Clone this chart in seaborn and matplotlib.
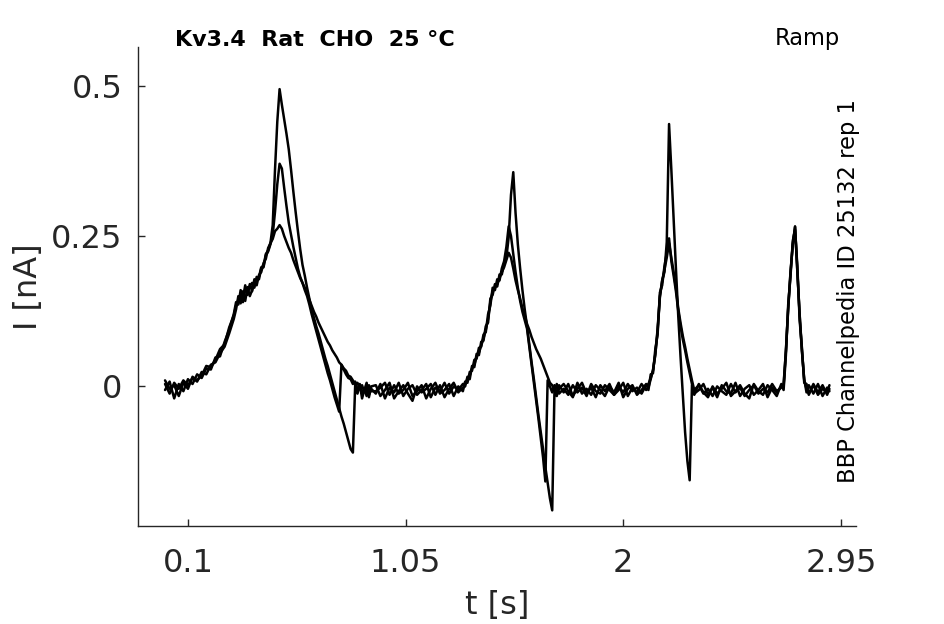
import pandas as pd
import matplotlib
matplotlib.use("Agg")
import matplotlib.pyplot as plt
import seaborn as sns

time_s = [
    0.00, 0.02, 0.04, 0.06, 0.08, 0.10, 0.12, 0.14, 0.16, 0.18, 0.20, 0.22, 0.24, 0.26, 0.28, 0.30,
    0.31, 0.32, 0.33, 0.34, 0.35, 0.36, 0.37, 0.38, 0.39, 0.40,
    0.41, 0.42, 0.43, 0.44, 0.45, 0.46, 0.47, 0.48, 0.49, 0.50,
    0.51, 0.52, 0.53, 0.54, 0.55, 0.56, 0.57, 0.58, 0.59, 0.60,
    0.61, 0.62, 0.63, 0.64, 0.65, 0.66, 0.67, 0.68, 0.69, 0.70,
    0.71, 0.72, 0.73, 0.74, 0.75, 0.76, 0.77, 0.78, 0.79, 0.80,
    0.81, 0.82, 0.83, 0.84, 0.85, 0.86, 0.87, 0.88, 0.89, 0.90,
    0.92, 0.94, 0.96, 0.98, 1.00, 1.02, 1.04, 1.06, 1.08, 1.10,
    1.12, 1.14, 1.16, 1.18, 1.20, 1.22, 1.24, 1.26, 1.28, 1.30,
    1.31, 1.32, 1.33, 1.34, 1.35, 1.36, 1.37, 1.38, 1.39, 1.40,
    1.41, 1.42, 1.43, 1.44, 1.45, 1.46, 1.47, 1.48, 1.49, 1.50,
    1.51, 1.52, 1.53, 1.54, 1.55, 1.56, 1.57, 1.58, 1.59, 1.60,
    1.61, 1.62, 1.63, 1.64, 1.65, 1.66, 1.67, 1.68, 1.69, 1.70,
    1.71, 1.72,
    1.74, 1.76, 1.78, 1.80, 1.82, 1.84, 1.86, 1.88, 1.90, 1.92,
    1.94, 1.96, 1.98, 2.00, 2.02, 2.04, 2.06, 2.08, 2.10,
    2.11, 2.12, 2.13, 2.14, 2.15, 2.16, 2.17, 2.18, 2.19, 2.20,
    2.21, 2.22, 2.23, 2.24, 2.25, 2.26, 2.27, 2.28, 2.29, 2.30, 2.31,
    2.33, 2.35, 2.37, 2.39, 2.41, 2.43, 2.45, 2.47, 2.49, 2.51,
    2.53, 2.55, 2.57, 2.59, 2.61, 2.63, 2.65, 2.67, 2.69,
    2.70, 2.71, 2.72, 2.73, 2.74, 2.75, 2.76, 2.77, 2.78, 2.79, 2.80, 2.81,
    2.83, 2.85, 2.87, 2.89, 2.90,
]

sweep_1 = [
    -0.006, 0.008, -0.020, 0.004, -0.008, 0.012, 0.004, 0.020, 0.014, 0.030, 0.028, 0.048, 0.050, 0.074, 0.094, 0.120,
    0.140, 0.136, 0.160, 0.146, 0.168, 0.152, 0.170, 0.158, 0.178, 0.176,
    0.182, 0.198, 0.200, 0.220, 0.226, 0.238, 0.268, 0.360, 0.440, 0.494,
    0.468, 0.444, 0.420, 0.394, 0.360, 0.324, 0.290, 0.258, 0.228, 0.202,
    0.184, 0.164, 0.146, 0.128, 0.114, 0.100, 0.088, 0.074, 0.060, 0.046,
    0.034, 0.020, 0.006, -0.008, -0.022, -0.036, -0.050, -0.062, -0.076, -0.090,
    -0.104, -0.110, 0.002, -0.012, 0.004, -0.020, -0.006, 0.006, -0.018, 0.000,
    0.002, -0.016, -0.006, 0.006, -0.020, -0.008, 0.002, -0.012, -0.024, 0.000,
    -0.010, -0.004, 0.004, -0.014, 0.002, -0.018, -0.004, 0.006, -0.010, -0.002,
    0.000, 0.016, 0.012, 0.034, 0.032, 0.054, 0.052, 0.074, 0.076, 0.100,
    0.106, 0.146, 0.152, 0.170, 0.166, 0.186, 0.186, 0.204, 0.214, 0.248,
    0.318, 0.356, 0.288, 0.236, 0.196, 0.160, 0.128, 0.100, 0.070, 0.040,
    0.012, -0.018, -0.048, -0.076, -0.104, -0.134, -0.160, -0.186, -0.206, -0.004,
    -0.016, 0.002,
    -0.010, 0.004, -0.016, -0.004, 0.006, -0.012, -0.002, -0.018, 0.002, -0.008,
    0.004, -0.014, -0.006, 0.006, -0.016, -0.002, -0.010, 0.004, -0.006,
    -0.002, 0.012, 0.028, 0.052, 0.096, 0.150, 0.176, 0.190, 0.240, 0.436,
    0.360, 0.276, 0.196, 0.118, 0.050, -0.014, -0.076, -0.124, -0.156, 0.002, -0.012,
    -0.006, 0.004, -0.014, -0.002, -0.018, 0.002, -0.008, -0.012, 0.006, -0.016,
    -0.004, 0.002, -0.014, -0.006, 0.004, -0.018, -0.002, -0.010, 0.000,
    0.004, 0.058, 0.128, 0.188, 0.236, 0.266, 0.192, 0.118, 0.058, 0.012, -0.010, 0.002,
    -0.012, 0.004, -0.016, -0.002, -0.008,
]

sweep_2 = [
    0.010, -0.004, 0.002, -0.016, 0.006, -0.004, 0.016, 0.010, 0.018, 0.034, 0.032, 0.044, 0.062, 0.070, 0.098, 0.118,
    0.134, 0.144, 0.150, 0.140, 0.162, 0.156, 0.166, 0.172, 0.164, 0.182,
    0.178, 0.196, 0.198, 0.218, 0.224, 0.236, 0.252, 0.290, 0.336, 0.370,
    0.362, 0.330, 0.300, 0.272, 0.252, 0.232, 0.214, 0.196, 0.182, 0.172,
    0.160, 0.150, 0.136, 0.120, 0.106, 0.092, 0.078, 0.064, 0.050, 0.036,
    0.022, 0.010, -0.004, -0.018, -0.030, -0.042, 0.036, 0.028, 0.020, 0.014,
    0.012, 0.004, 0.008, -0.006, 0.002, -0.012, -0.004, -0.016, 0.002, -0.008,
    -0.008, -0.002, 0.006, -0.014, 0.002, -0.012, -0.006, 0.006, -0.016, -0.008,
    0.002, -0.020, -0.004, 0.006, -0.012, -0.006, 0.004, -0.016, 0.000, -0.008,
    0.008, 0.006, 0.024, 0.026, 0.044, 0.046, 0.064, 0.066, 0.086, 0.090,
    0.120, 0.134, 0.164, 0.160, 0.178, 0.176, 0.196, 0.208, 0.232, 0.266,
    0.250, 0.220, 0.190, 0.164, 0.142, 0.124, 0.110, 0.096, 0.066, 0.036,
    0.006, -0.024, -0.054, -0.086, -0.118, -0.158, 0.010, 0.000, -0.010, 0.002,
    -0.012, -0.004,
    0.004, -0.008, -0.018, 0.006, -0.012, -0.004, -0.014, 0.002, -0.006, -0.016,
    0.000, -0.010, 0.006, -0.018, -0.004, 0.002, -0.014, -0.006, 0.004,
    -0.006, 0.020, 0.022, 0.062, 0.086, 0.156, 0.168, 0.200, 0.222, 0.246,
    0.208, 0.184, 0.158, 0.126, 0.100, 0.078, 0.060, 0.040, 0.022, 0.004, -0.014,
    0.004, -0.010, -0.018, 0.000, -0.012, -0.004, 0.006, -0.016, -0.008, 0.002,
    -0.012, -0.020, 0.004, -0.008, -0.014, 0.002, -0.006, -0.016, 0.004,
    -0.006, 0.052, 0.136, 0.182, 0.242, 0.260, 0.200, 0.110, 0.064, 0.006, 0.004, -0.014,
    0.004, -0.010, 0.002, -0.014, -0.004,
]

sweep_3 = [
    0.004, -0.012, 0.006, -0.004, 0.010, 0.002, 0.014, 0.008, 0.024, 0.020, 0.036, 0.040, 0.055, 0.066, 0.088, 0.112,
    0.128, 0.150, 0.138, 0.158, 0.142, 0.165, 0.150, 0.160, 0.172, 0.168,
    0.185, 0.190, 0.205, 0.212, 0.230, 0.238, 0.245, 0.258, 0.262, 0.268,
    0.262, 0.250, 0.240, 0.230, 0.222, 0.210, 0.200, 0.190, 0.180, 0.172,
    0.164, 0.154, 0.144, 0.134, 0.124, 0.116, 0.106, 0.098, 0.090, 0.082,
    0.074, 0.068, 0.060, 0.054, 0.048, 0.040, 0.036, 0.030, 0.026, 0.018,
    0.016, 0.010, 0.004, 0.006, -0.004, 0.002, -0.010, -0.002, -0.014, -0.004,
    -0.012, 0.004, -0.020, -0.002, -0.010, 0.006, -0.016, -0.004, 0.002, -0.014,
    -0.006, 0.004, -0.018, -0.002, -0.008, 0.006, -0.012, 0.000, -0.006, 0.004,
    0.004, 0.012, 0.018, 0.030, 0.036, 0.050, 0.056, 0.068, 0.080, 0.094,
    0.112, 0.140, 0.158, 0.164, 0.170, 0.180, 0.190, 0.198, 0.210, 0.222,
    0.214, 0.196, 0.176, 0.160, 0.146, 0.130, 0.118, 0.104, 0.094, 0.082,
    0.072, 0.062, 0.054, 0.046, 0.036, 0.026, 0.016, 0.006, 0.002, -0.008,
    0.004, -0.012,
    -0.004, -0.014, 0.002, -0.010, -0.002, -0.016, 0.004, -0.008, -0.012, 0.002,
    -0.006, -0.014, 0.000, -0.010, 0.004, -0.008, -0.002, -0.012, 0.002,
    0.004, 0.014, 0.026, 0.054, 0.092, 0.148, 0.176, 0.194, 0.214, 0.238,
    0.214, 0.190, 0.164, 0.130, 0.106, 0.084, 0.066, 0.046, 0.028, 0.010, -0.006,
    0.002, -0.012, -0.004, -0.016, 0.000, -0.008, -0.014, 0.004, -0.010, -0.002,
    -0.016, -0.006, 0.002, -0.012, -0.004, -0.010, 0.004, -0.008, -0.002,
    0.000, 0.060, 0.130, 0.190, 0.235, 0.265, 0.190, 0.120, 0.060, 0.010, -0.004, -0.012,
    0.002, -0.014, -0.004, -0.010, 0.002,
]

x_ticks = [0.1, 1.05, 2, 2.95]
x_tick_labels = ['0.1', '1.05', '2', '2.95']
y_ticks = [0, 0.25, 0.5]
y_tick_labels = ['0', '0.25', '0.5']

sweeps = {'sweep 1': sweep_1, 'sweep 2': sweep_2, 'sweep 3': sweep_3}
frames = []
for name, vals in sweeps.items():
    assert len(vals) == len(time_s), (name, len(vals), len(time_s))
    frames.append(pd.DataFrame({'t': time_s, 'I': vals, 'sweep': name}))
df = pd.concat(frames, ignore_index=True)

sns.set_style('ticks')
plt.rcParams['font.family'] = ['DejaVu Sans']

W, H = 945, 624
fig = plt.figure(figsize=(W / 100, H / 100), dpi=100)
ax = fig.add_axes([138 / W, 1 - 526 / H, (856 - 138) / W, (526 - 47) / H])

for name in sweeps:
    sns.lineplot(data=df[df['sweep'] == name], x='t', y='I', color='black',
                 sort=False, estimator=None, linewidth=1.8, ax=ax, legend=False)

ax.set_xlim(-0.118, 3.016)
ax.set_ylim(-0.232, 0.564)
ax.set_xticks(x_ticks)
ax.set_xticklabels(x_tick_labels)
ax.set_yticks(y_ticks)
ax.set_yticklabels(y_tick_labels)

gray = '#262626'
for side in ['top', 'right']:
    ax.spines[side].set_visible(False)
for side in ['left', 'bottom']:
    ax.spines[side].set_color(gray)
    ax.spines[side].set_linewidth(1.0)
ax.tick_params(axis='both', direction='in', length=5, width=1.0, colors=gray, labelsize=23)
ax.tick_params(axis='x', pad=16)
ax.tick_params(axis='y', pad=11)

ax.set_xlabel('t [s]', fontsize=23, color=gray, labelpad=8)
ax.set_ylabel('I [nA]', fontsize=23, color=gray, labelpad=5)

fig.text(175 / W, 1 - 40 / H, 'Kv3.4  Rat  CHO  25 °C', fontsize=16, fontweight='bold',
         ha='left', va='center', color='black')
fig.text(840 / W, 1 - 39 / H, 'Ramp', fontsize=16.3, ha='right', va='center', color='black')
fig.text(849 / W, 1 - 291 / H, 'BBP Channelpedia ID 25132 rep 1', fontsize=16.3,
         rotation=90, ha='center', va='center', color='black')

fig.savefig('out.png', dpi=100)
